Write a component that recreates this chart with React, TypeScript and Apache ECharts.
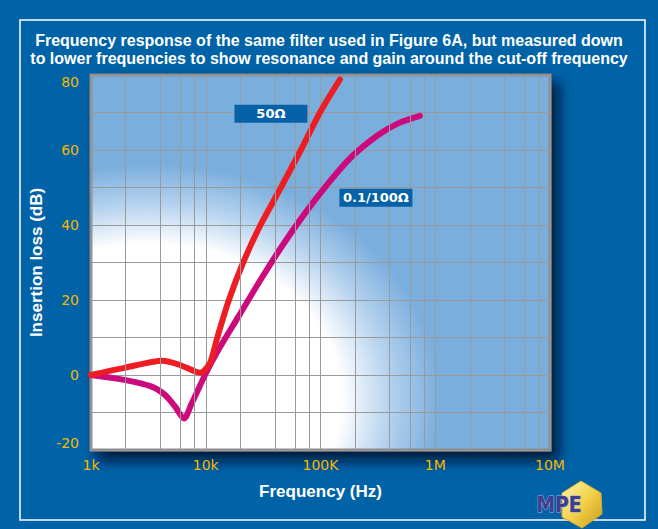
import React, { useEffect, useRef } from "react";
import * as echarts from "echarts";

const titleLines = [
  "Frequency response of the same filter used in Figure 6A, but measured down",
  "to lower frequencies to show resonance and gain around the cut-off frequency",
];

const freqTicks = [1000, 10000, 100000, 1000000, 10000000];
const freqTickLabels = ["1k", "10k", "100K", "1M", "10M"];
const minorFreqs = [
  2000, 4000, 6000, 8000,
  20000, 40000, 60000, 80000,
  200000, 400000, 600000, 800000,
  2000000, 4000000, 6000000, 8000000,
];

const freq50 = [1000, 1950, 4200, 5800, 8000, 9000, 10900, 12600, 15900, 21200, 30000, 45200, 67400, 98900, 147500];
const db50 = [0, 1.9, 3.8, 2.8, 1.0, 0.6, 3.2, 10, 20, 30, 40, 50, 60, 70, 78.8];

const freq100 = [1000, 1950, 3380, 4410, 5400, 6460, 7530, 10000, 12900, 19200, 28700, 45800, 73100, 116700, 186600, 318000, 475000, 734000];
const db100 = [0, -1.3, -3.1, -5.3, -8.4, -11.6, -7.6, 0.4, 6.7, 15.5, 24.4, 34.2, 43.1, 51.1, 58.2, 64, 67.1, 69.1];

const seriesNames = ["50Ω", "0.1/100Ω"];
const labelAnchors = [
  [37000, 69.7],
  [304000, 47.3],
];

const FONT = "'Liberation Sans', Arial, sans-serif";
const TICK_FONT = "'DejaVu Sans', Verdana, sans-serif";

export default function App() {
  const ref = useRef<HTMLDivElement>(null);

  useEffect(() => {
    document.body.style.margin = "0";
    if (!ref.current) return;
    const chart = echarts.init(ref.current, null, { renderer: "svg" });

    const labelBox = (name: string, coord: number[]) => ({
      data: [{ coord, value: name }],
      symbol: "rect",
      symbolSize: [73, 18],
      itemStyle: { color: "#0761a6" },
      label: {
        show: true,
        position: "inside",
        formatter: name,
        color: "#ffffff",
        fontWeight: "bold",
        fontSize: 13,
        fontFamily: TICK_FONT,
      },
      silent: true,
      animation: false,
    });

    chart.setOption({
      animation: false,
      backgroundColor: "#0063a7",
      title: {
        text: titleLines.join("\n"),
        left: "center",
        top: 26,
        textStyle: {
          color: "#ffffff",
          fontSize: 16,
          fontWeight: "bold",
          fontFamily: FONT,
          lineHeight: 18.5,
        },
      },
      grid: {
        left: 91,
        right: 108,
        top: 75,
        bottom: 79,
        show: true,
        borderColor: "#8c8c8c",
        borderWidth: 3,
        backgroundColor: new echarts.graphic.RadialGradient(0.129, 0.867, 0.63, [
          { offset: 0, color: "#ffffff" },
          { offset: 0.66, color: "#ffffff" },
          { offset: 0.83, color: "#b5d2ee" },
          { offset: 1, color: "#7aaedd" },
        ]),
        shadowColor: "rgba(0,12,45,0.9)",
        shadowBlur: 14,
        shadowOffsetX: 7,
        shadowOffsetY: 9,
      },
      xAxis: {
        type: "log",
        logBase: 10,
        min: freqTicks[0],
        max: freqTicks[freqTicks.length - 1],
        name: "Frequency (Hz)",
        nameLocation: "middle",
        nameGap: 33,
        nameTextStyle: { color: "#ffffff", fontSize: 17, fontWeight: "bold", fontFamily: FONT },
        axisLine: { show: false },
        axisTick: { show: false },
        axisLabel: {
          color: "#f4b800",
          fontSize: 14,
          fontFamily: TICK_FONT,
          margin: 8,
          formatter: (v: number) => {
            const i = freqTicks.findIndex((t) => Math.abs(t - v) / t < 1e-6);
            return i >= 0 ? freqTickLabels[i] : "";
          },
        },
        splitLine: { show: true, lineStyle: { color: "#9a9a9a", width: 1 } },
      },
      yAxis: {
        type: "value",
        min: -20,
        max: 80,
        interval: 20,
        name: "Insertion loss (dB)",
        nameLocation: "middle",
        nameGap: 43,
        nameTextStyle: { color: "#ffffff", fontSize: 17, fontWeight: "bold", fontFamily: FONT },
        axisLine: { show: false },
        axisTick: { show: false },
        axisLabel: {
          color: "#f4b800",
          fontSize: 14,
          fontFamily: TICK_FONT,
          margin: 12,
          verticalAlignMaxLabel: "top",
          verticalAlignMinLabel: "bottom",
        },
        splitLine: { show: true, lineStyle: { color: "#9a9a9a", width: 1 } },
        minorTick: { show: false, splitNumber: 2 },
        minorSplitLine: { show: true, lineStyle: { color: "#9a9a9a", width: 1 } },
      },
      series: [
        {
          type: "line",
          name: "minor",
          data: [],
          z: 1,
          silent: true,
          markLine: {
            silent: true,
            symbol: "none",
            animation: false,
            label: { show: false },
            lineStyle: { color: "#9a9a9a", width: 1, type: "solid" },
            data: minorFreqs.map((f) => ({ xAxis: f })),
          },
        },
        {
          type: "line",
          name: seriesNames[1],
          data: freq100.map((f, i) => [f, db100[i]]),
          showSymbol: false,
          smooth: 0.3,
          z: 3,
          lineStyle: { color: "#cc0a7c", width: 6, cap: "round", join: "round" },
          markPoint: labelBox(seriesNames[1], labelAnchors[1]),
        },
        {
          type: "line",
          name: seriesNames[0],
          data: freq50.map((f, i) => [f, db50[i]]),
          showSymbol: false,
          smooth: 0.25,
          z: 4,
          lineStyle: { color: "#ee1d24", width: 6, cap: "round", join: "round" },
          markPoint: labelBox(seriesNames[0], labelAnchors[0]),
        },
      ],
      graphic: [
        {
          type: "rect",
          shape: { x: 20, y: 20, width: 625, height: 500 },
          style: { fill: "none", stroke: "#ffffff", lineWidth: 1.5 },
          silent: true,
          z: -1,
        },
        {
          type: "polygon",
          shape: {
            points: [
              [581, 481],
              [601, 493],
              [602, 514],
              [582, 528],
              [562, 517],
              [562, 493],
            ],
          },
          style: {
            fill: new echarts.graphic.LinearGradient(0, 0, 1, 1, [
              { offset: 0, color: "#fff6b0" },
              { offset: 0.5, color: "#f3d24a" },
              { offset: 1, color: "#c99a1c" },
            ]),
            stroke: "#d9a92a",
            lineWidth: 1,
          },
          z: 10,
        },
        {
          type: "text",
          x: 559,
          y: 505,
          style: {
            text: "MPE",
            fill: "#3c3f8e",
            stroke: "#a7abd8",
            lineWidth: 1,
            font: "bold 21px 'DejaVu Sans Condensed', 'Liberation Sans', sans-serif",
            align: "center",
            verticalAlign: "middle",
          },
          z: 11,
        },
      ],
    });

    return () => chart.dispose();
  }, []);

  return <div ref={ref} style={{ width: 658, height: 529 }} />;
}
